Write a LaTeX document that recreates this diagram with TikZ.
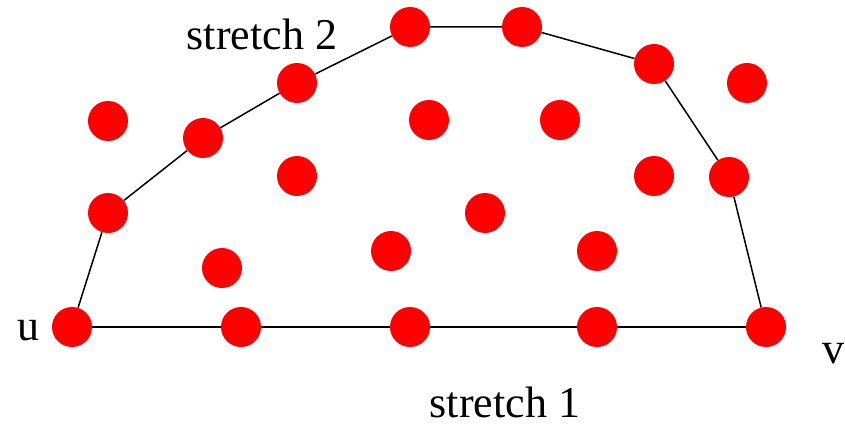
\documentclass[tikz,border=0pt]{standalone}
\usepackage{fontspec}
\setmainfont{Liberation Serif}
\begin{document}
\begin{tikzpicture}[x=1pt,y=-1pt,
  dot/.style={circle,fill=red,inner sep=0pt,minimum size=40pt},
  lbl/.style={font=\fontsize{44}{50}\selectfont,inner sep=0pt},
  edge/.style={draw=black,line width=1.5pt}]
\useasboundingbox (0,0) rectangle (845,425);
% bottom row
\node[dot] (u) at (72,327) {};
\node[dot] (b1) at (241,327) {};
\node[dot] (b2) at (410,327) {};
\node[dot] (b3) at (597,327) {};
\node[dot] (v) at (766,327) {};
% upper chain
\node[dot] (c1) at (108,213) {};
\node[dot] (c2) at (203,138) {};
\node[dot] (c3) at (297,83) {};
\node[dot] (c4) at (410,27) {};
\node[dot] (c5) at (522,27) {};
\node[dot] (c6) at (654,64) {};
\node[dot] (c7) at (729,177) {};
% others
\node[dot] (o1) at (108,121) {};
\node[dot] (o2) at (297,176) {};
\node[dot] (o3) at (222,268) {};
\node[dot] (o4) at (429,120) {};
\node[dot] (o5) at (560,120) {};
\node[dot] (o6) at (391,251) {};
\node[dot] (o7) at (485,213) {};
\node[dot] (o8) at (597,251) {};
\node[dot] (o9) at (654,176) {};
\node[dot] (o10) at (747,83) {};
% edges
\path[edge] (u) -- (b1) (b1) -- (b2) (b2) -- (b3) (b3) -- (v);
\path[edge] (u) -- (c1) (c1) -- (c2) (c2) -- (c3) (c3) -- (c4) (c4) -- (c5) (c5) -- (c6) (c6) -- (c7) (c7) -- (v);
% labels
\node[lbl] (lu) at (28,331) {u};
\node[lbl] (lv) at (833,354) {v};
\node[lbl] (ls2) at (262,34) {stretch 2};
\node[lbl] (ls1) at (505,402) {stretch 1};
\end{tikzpicture}
\end{document}
